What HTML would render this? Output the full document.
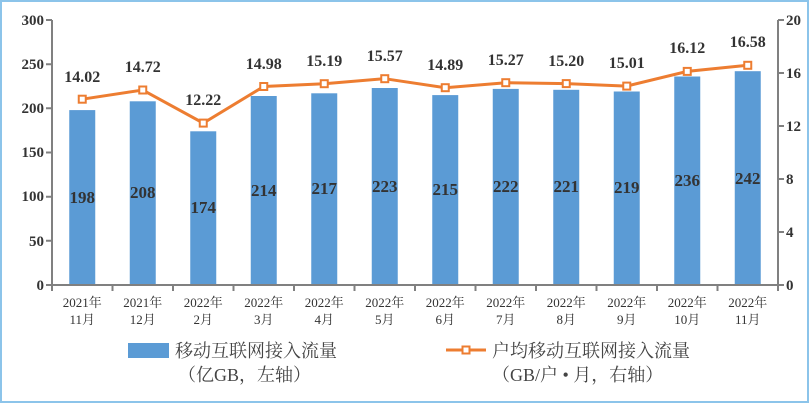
<!DOCTYPE html>
<html><head><meta charset="utf-8"><style>
html,body{margin:0;padding:0;background:#fff}
svg{display:block}
.t{font-family:"Liberation Serif","Noto Serif CJK SC",serif;font-weight:bold;font-size:15px;fill:#333}
.v{font-family:"Liberation Serif","Noto Serif CJK SC",serif;font-weight:bold;font-size:16px;fill:#333}
.x{font-family:"Liberation Serif","Noto Serif CJK SC",serif;font-size:13px;fill:#333}
.lg{font-family:"Liberation Serif","Noto Serif CJK SC",serif;font-size:18px;fill:#444}
</style></head><body>
<svg width="809" height="403" viewBox="0 0 809 403" xmlns="http://www.w3.org/2000/svg">
<rect x="1" y="1" width="807" height="401" fill="#fff" stroke="#8cc4ea" stroke-width="2"/>
<g fill="#5B9BD5">
<rect x="69.25" y="110.1" width="26" height="174.9"/>
<rect x="129.75" y="101.3" width="26" height="183.7"/>
<rect x="190.25" y="131.3" width="26" height="153.7"/>
<rect x="250.75" y="96" width="26" height="189"/>
<rect x="311.25" y="93.3" width="26" height="191.7"/>
<rect x="371.75" y="88" width="26" height="197"/>
<rect x="432.25" y="95.1" width="26" height="189.9"/>
<rect x="492.75" y="88.9" width="26" height="196.1"/>
<rect x="553.25" y="89.8" width="26" height="195.2"/>
<rect x="613.75" y="91.5" width="26" height="193.5"/>
<rect x="674.25" y="76.5" width="26" height="208.5"/>
<rect x="734.75" y="71.2" width="26" height="213.8"/>
</g>
<g stroke="#808080" stroke-width="2" fill="none">
<path d="M52 20V285H778V20"/>
<path d="M46 20H52M46 64.2H52M46 108.3H52M46 152.5H52M46 196.7H52M46 240.8H52M46 285H52"/>
<path d="M778 20H784M778 73H784M778 126H784M778 179H784M778 232H784M778 285H784"/>
<path d="M52 285V291M112.5 285V291M173 285V291M233.5 285V291M294 285V291M354.5 285V291M415 285V291M475.5 285V291M536 285V291M596.5 285V291M657 285V291M717.5 285V291M778 285V291"/>
</g>
<g class="t" text-anchor="end">
<text x="44" y="25">300</text><text x="44" y="69">250</text><text x="44" y="113">200</text><text x="44" y="157">150</text><text x="44" y="201">100</text><text x="44" y="246">50</text><text x="44" y="290">0</text>
</g>
<g class="t" text-anchor="start">
<text x="786" y="25">20</text><text x="786" y="78">16</text><text x="786" y="131">12</text><text x="786" y="184">8</text><text x="786" y="237">4</text><text x="786" y="290">0</text>
</g>
<g class="v" text-anchor="middle" style="font-size:17px">
<text x="82.25" y="203">198</text><text x="142.75" y="198">208</text><text x="203.25" y="213">174</text><text x="263.75" y="196">214</text><text x="324.25" y="194">217</text><text x="384.75" y="192">223</text><text x="445.25" y="195">215</text><text x="505.75" y="192">222</text><text x="566.25" y="192">221</text><text x="626.75" y="193">219</text><text x="687.25" y="186">236</text><text x="747.75" y="184">242</text>
</g>
<polyline fill="none" stroke="#ED7D31" stroke-width="3" points="82.25,99.2 142.75,90 203.25,123.1 263.75,86.5 324.25,83.7 384.75,78.7 445.25,87.7 505.75,82.7 566.25,83.6 626.75,86.1 687.25,71.4 747.75,65.3"/>
<g fill="#fff" stroke="#ED7D31" stroke-width="2">
<rect x="78.75" y="95.7" width="7" height="7"/><rect x="139.25" y="86.5" width="7" height="7"/><rect x="199.75" y="119.6" width="7" height="7"/><rect x="260.25" y="83" width="7" height="7"/><rect x="320.75" y="80.2" width="7" height="7"/><rect x="381.25" y="75.2" width="7" height="7"/><rect x="441.75" y="84.2" width="7" height="7"/><rect x="502.25" y="79.2" width="7" height="7"/><rect x="562.75" y="80.1" width="7" height="7"/><rect x="623.25" y="82.6" width="7" height="7"/><rect x="683.75" y="67.9" width="7" height="7"/><rect x="744.25" y="61.8" width="7" height="7"/>
</g>
<g class="v" text-anchor="middle">
<text x="82.25" y="82">14.02</text><text x="142.75" y="72">14.72</text><text x="203.25" y="105">12.22</text><text x="263.75" y="69">14.98</text><text x="324.25" y="66">15.19</text><text x="384.75" y="61">15.57</text><text x="445.25" y="70">14.89</text><text x="505.75" y="65">15.27</text><text x="566.25" y="66">15.20</text><text x="626.75" y="68">15.01</text><text x="687.25" y="53">16.12</text><text x="747.75" y="47">16.58</text>
</g>
<g class="x" text-anchor="middle">
<text x="82.25" y="307">2021年</text><text x="82.25" y="324">11月</text>
<text x="142.75" y="307">2021年</text><text x="142.75" y="324">12月</text>
<text x="203.25" y="307">2022年</text><text x="203.25" y="324">2月</text>
<text x="263.75" y="307">2022年</text><text x="263.75" y="324">3月</text>
<text x="324.25" y="307">2022年</text><text x="324.25" y="324">4月</text>
<text x="384.75" y="307">2022年</text><text x="384.75" y="324">5月</text>
<text x="445.25" y="307">2022年</text><text x="445.25" y="324">6月</text>
<text x="505.75" y="307">2022年</text><text x="505.75" y="324">7月</text>
<text x="566.25" y="307">2022年</text><text x="566.25" y="324">8月</text>
<text x="626.75" y="307">2022年</text><text x="626.75" y="324">9月</text>
<text x="687.25" y="307">2022年</text><text x="687.25" y="324">10月</text>
<text x="747.75" y="307">2022年</text><text x="747.75" y="324">11月</text>
</g>
<rect x="128" y="343" width="41" height="15" fill="#5B9BD5"/>
<text class="lg" x="175" y="357">移动互联网接入流量</text>
<text class="lg" x="178" y="381">（亿GB，左轴）</text>
<line x1="446" y1="350" x2="486" y2="350" stroke="#ED7D31" stroke-width="3"/>
<rect x="462.5" y="346.5" width="7" height="7" fill="#fff" stroke="#ED7D31" stroke-width="2"/>
<text class="lg" x="492" y="357">户均移动互联网接入流量</text>
<text class="lg" x="492" y="381">（GB/户 • 月，右轴）</text>
</svg>
</body></html>
